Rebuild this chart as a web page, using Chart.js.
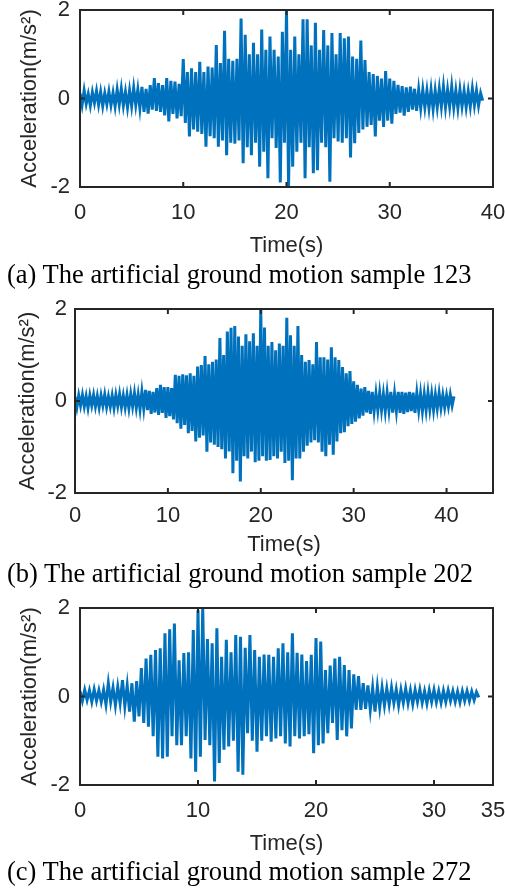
<!DOCTYPE html>
<html>
<head>
<meta charset="utf-8">
<script src="https://cdn.jsdelivr.net/npm/chart.js@4"></script>
<style>
  body { margin: 0; background: #fff; }
  #wrap { position: relative; width: 505px; height: 890px; overflow: hidden; }
  canvas { position: absolute; left: 0; }
  .cap {
    position: absolute; left: 7px; margin: 0;
    font-family: "Liberation Serif", "Times New Roman", serif;
    font-size: 26.5px; line-height: 1; color: #000; white-space: nowrap;
  }
</style>
</head>
<body>
<div id="wrap">
  <canvas id="chartA" width="505" height="260" style="top:0px"></canvas>
  <p class="cap" style="top:261px">(a) The artificial ground motion sample 123</p>
  <canvas id="chartB" width="505" height="264" style="top:295px"></canvas>
  <p class="cap" style="top:560px">(b) The artificial ground motion sample 202</p>
  <canvas id="chartC" width="505" height="263" style="top:595px"></canvas>
  <p class="cap" style="top:858px">(c) The artificial ground motion sample 272</p>
</div>
<script>
// sample step of the traces (s)
const dt = 0.2;

// tick labels
const yTicks = [-2, 0, 2];
const xTicksA = [0, 10, 20, 30, 40];
const xTicksB = [0, 10, 20, 30, 40];
const xTicksC = [0, 10, 20, 30, 35];

// sample 123 (every 0.2 s)
const accelA = [
  0.12,-0.15,0.18,-0.12,0.10, -0.16,0.14,-0.10,0.17,-0.14,
  0.15,-0.17,0.12,-0.13,0.16, -0.15,0.13,-0.18,0.20,-0.14,
  0.22,-0.16,0.15,-0.20,0.18, -0.17,0.24,-0.15,0.20,-0.22,
  0.26,-0.30,0.22,-0.34,0.30, -0.25,0.46,-0.28,0.35,-0.30,
  0.30,-0.38,0.46,-0.52,0.40, -0.35,0.38,-0.45,0.33,-0.40,
  0.89,-0.55,0.60,-0.86,0.68, -0.70,0.60,-0.75,0.83,-0.80,
  0.60,-1.09,0.72,-0.85,0.70, -0.90,1.21,-1.09,0.80,-0.95,
  1.53,-1.28,0.90,-1.00,0.85, -1.02,0.90,-0.95,1.81,-1.46,
  1.44,-1.10,1.00,-1.28,1.26, -1.00,1.00,-1.54,1.56,-1.20,
  1.10,-1.80,1.40,-0.90,1.10, -1.12,0.95,-1.90,1.51,-1.00,
  1.98,-1.99,1.10,-1.54,1.40, -1.20,1.00,-1.00,1.79,-1.80,
  1.79,-1.10,1.20,-1.69,1.71, -1.62,1.10,-1.00,1.55,-1.10,
  1.20,-1.88,1.48,-0.90,1.00, -0.97,1.48,-1.00,1.36,-0.90,
  1.40,-1.33,0.95,-1.01,0.90, -0.78,1.31,-0.70,0.87,-0.64,
  0.60,-0.60,0.55,-0.86,0.51, -0.50,0.45,-0.64,0.62,-0.50,
  0.45,-0.57,0.40,-0.35,0.31, -0.32,0.28,-0.39,0.25,-0.30,
  0.27,-0.25,0.22,-0.28,0.20, -0.22,0.20,-0.20,0.18,-0.22,
  0.20,-0.24,0.18,-0.20,0.22, -0.18,0.27,-0.20,0.20,-0.18,
  0.27,-0.20,0.18,-0.22,0.20, -0.18,0.17,-0.20,0.16,-0.18,
  0.22,-0.15,0.18,-0.16,0.12, -0.05
];

// sample 202
const accelB = [
  0.10,-0.14,0.12,-0.10,0.13, -0.12,0.10,-0.15,0.12,-0.10,
  0.13,-0.12,0.11,-0.14,0.12, -0.10,0.14,-0.13,0.10,-0.12,
  0.12,-0.15,0.13,-0.11,0.15, -0.13,0.12,-0.14,0.13,-0.16,
  0.15,-0.12,0.17,-0.15,0.14, -0.18,0.20,-0.16,0.24,-0.20,
  0.22,-0.28,0.20,-0.25,0.28, -0.30,0.35,-0.26,0.30,-0.37,
  0.30,-0.33,0.28,-0.40,0.57, -0.48,0.55,-0.60,0.58,-0.52,
  0.56,-0.70,0.60,-0.65,0.55, -0.88,0.75,-0.80,0.78,-0.75,
  0.98,-1.10,0.80,-0.90,0.85, -0.95,0.90,-1.00,1.37,-1.05,
  1.00,-1.25,1.51,-1.10,1.59, -1.57,1.63,-1.30,1.40,-1.75,
  1.20,-1.20,1.45,-1.25,1.30, -1.10,1.47,-1.33,1.20,-1.30,
  2.00,-1.20,1.60,-1.30,1.20, -1.28,1.28,-1.20,1.10,-1.25,
  1.25,-1.10,1.20,-1.35,1.81, -1.30,1.43,-1.72,1.20,-1.25,
  1.63,-1.25,1.00,-1.10,0.85, -0.97,0.89,-0.90,0.80,-0.85,
  1.28,-0.90,0.95,-1.10,0.95, -1.20,0.90,-0.95,1.17,-1.17,
  0.95,-0.88,0.89,-0.70,0.74, -0.68,0.60,-0.55,0.65,-0.50,
  0.43,-0.45,0.35,-0.38,0.27, -0.32,0.30,-0.25,0.22,-0.28,
  0.20,-0.22,0.16,-0.20,0.18, -0.20,0.15,-0.22,0.18,-0.20,
  0.20,-0.25,0.16,-0.22,0.20, -0.26,0.20,-0.28,0.18,-0.24,
  0.20,-0.22,0.18,-0.26,0.17, -0.20,0.16,-0.22,0.15,-0.20,
  0.18,-0.18,0.15,-0.20,0.14, -0.16,0.17,-0.15,0.13,-0.14,
  0.12,-0.12,0.14,-0.10,0.10
];

// sample 272
const accelC = [
  0.12,-0.10,0.15,-0.08,0.14, -0.12,0.16,-0.10,0.14,-0.12,
  0.15,-0.18,0.30,-0.12,0.20, -0.20,0.22,-0.15,0.37,-0.22,
  0.25,-0.34,0.30,-0.57,0.35, -0.45,0.64,-0.60,0.86,-0.68,
  0.94,-0.90,1.05,-1.36,1.09, -1.40,1.43,-1.36,1.52,-0.90,
  1.65,-1.10,0.82,-1.10,0.98, -0.90,1.00,-1.40,1.50,-1.70,
  1.95,-1.36,2.00,-0.98,1.30, -1.10,1.20,-1.92,1.54,-1.50,
  0.90,-1.20,1.28,-1.13,1.00, -1.00,1.39,-1.70,1.35,-1.77,
  1.10,-0.83,1.39,-1.00,1.05, -1.25,0.90,-1.00,0.95,-0.90,
  0.94,-1.02,0.90,-0.95,1.09, -0.90,1.20,-1.06,1.00,-1.13,
  1.43,-0.90,0.99,-0.95,0.95, -0.90,0.80,-0.85,0.94,-1.28,
  1.32,-1.10,1.24,-1.06,0.60, -0.83,0.70,-0.60,0.86,-0.98,
  0.90,-0.76,0.71,-0.90,0.60, -0.72,0.50,-0.30,0.46,-0.30,
  0.30,-0.28,0.25,-0.30,0.20, -0.34,0.22,-0.25,0.20,-0.20,
  0.18,-0.18,0.20,-0.15,0.16, -0.20,0.15,-0.14,0.18,-0.15,
  0.14,-0.17,0.15,-0.12,0.16, -0.14,0.12,-0.16,0.14,-0.12,
  0.15,-0.13,0.12,-0.14,0.13, -0.12,0.14,-0.10,0.12,-0.12,
  0.11,-0.13,0.12,-0.10,0.12, -0.10,0.11,-0.08,0.10,-0.02
];

const axisColor = "#262626";
const sans = { family: "'Liberation Sans', Arial, sans-serif", size: 22 };

// MATLAB style box with inward ticks
const boxPlugin = {
  id: "box",
  afterDraw(chart) {
    const { ctx, chartArea: a, scales: { x, y } } = chart;
    ctx.save();
    ctx.strokeStyle = axisColor;
    ctx.lineWidth = 2;
    ctx.beginPath();
    x.ticks.forEach(t => {
      const px = x.getPixelForValue(t.value);
      ctx.moveTo(px, a.bottom); ctx.lineTo(px, a.bottom - 5);
      ctx.moveTo(px, a.top); ctx.lineTo(px, a.top + 5);
    });
    y.ticks.forEach(t => {
      const py = y.getPixelForValue(t.value);
      ctx.moveTo(a.left, py); ctx.lineTo(a.left + 5, py);
      ctx.moveTo(a.right, py); ctx.lineTo(a.right - 5, py);
    });
    ctx.stroke();
    ctx.strokeRect(a.left, a.top, a.right - a.left, a.bottom - a.top);
    ctx.restore();
  }
};

const drawPanel = (id, values, xMax, xTicks, lay) => {
  const points = values.map((v, i) => ({ x: i * dt, y: v }));

  new Chart(document.getElementById(id), {
    type: "line",
    data: {
      datasets: [{
        data: points,
        borderColor: "#0072BD",
        borderWidth: 3,
        pointRadius: 0,
        tension: 0,
        fill: false
      }]
    },
    options: {
      responsive: false,
      animation: false,
      events: [],
      layout: { padding: { top: lay.top, right: 12, left: 0, bottom: 0 } },
      plugins: { legend: { display: false }, tooltip: { enabled: false } },
      scales: {
        x: {
          type: "linear",
          min: 0,
          max: xMax,
          afterBuildTicks: s => { s.ticks = xTicks.map(v => ({ value: v })); },
          afterFit: s => { s.height = lay.xH; s.paddingLeft = 0; s.paddingRight = 0; },
          grid: { display: false, drawTicks: false },
          border: { display: false },
          ticks: { padding: lay.tickPad, color: axisColor, font: sans, maxRotation: 0, autoSkip: false, callback: v => String(v) },
          title: { display: true, text: "Time(s)", color: axisColor, font: sans, padding: { top: 0, bottom: 1 } }
        },
        y: {
          min: -2,
          max: 2,
          afterBuildTicks: s => { s.ticks = yTicks.map(v => ({ value: v })); },
          afterFit: s => { s.width = lay.yW; s.paddingTop = 0; s.paddingBottom = 0; },
          grid: { display: false, drawTicks: false },
          border: { display: false },
          ticks: { padding: lay.yPad, color: axisColor, font: sans, callback: v => String(v) },
          title: { display: true, text: "Acceleration(m/s²)", color: axisColor, font: sans, padding: { top: lay.titleX, bottom: 0 } }
        }
      }
    },
    plugins: [boxPlugin]
  });
};

drawPanel("chartA", accelA, 40, xTicksA, { top: 10, xH: 73, yW: 80, tickPad: 13, yPad: 10, titleX: 17 });
drawPanel("chartB", accelB, 45, xTicksB, { top: 14, xH: 66, yW: 75, tickPad: 10, yPad: 8, titleX: 15 });
drawPanel("chartC", accelC, 35, xTicksC, { top: 13, xH: 73, yW: 80, tickPad: 13, yPad: 10, titleX: 17 });
</script>
</body>
</html>
